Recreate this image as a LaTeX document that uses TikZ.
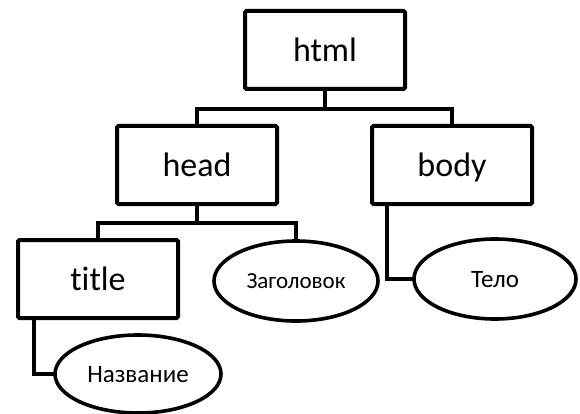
\documentclass[tikz,border=0pt]{standalone}
\usepackage{fontspec}
\setmainfont{Carlito}[Ligatures={NoCommon}]
\usetikzlibrary{shapes.geometric,calc}

% text with a fixed height and no depth, so every label sits on the same line
\newcommand{\boxlabel}[1]{\vphantom{h}\smash{#1}}
\newcommand{\ovallabel}[1]{\vphantom{H}\smash{#1}}

\tikzset{
  tag/.style={draw, line width=4pt, rounded corners=1.5pt, fill=white,
    minimum width=160pt, minimum height=78pt, inner sep=0pt,
    font=\fontsize{34}{40}\selectfont},
  leaf/.style={draw, ellipse, line width=3.6pt, fill=white,
    minimum width=164pt, minimum height=80pt, inner sep=0pt,
    font=\fontsize{25}{30}\selectfont},
  link/.style={line width=4pt, line cap=rect, line join=miter}
}

\begin{document}
\begin{tikzpicture}[x=1pt, y=-1pt]
  \useasboundingbox[fill=white] (0,0) rectangle (580,414);

  % element boxes
  \node[tag] (html)  at (325,50)  {\boxlabel{html}};
  \node[tag] (head)  at (197,165) {\boxlabel{head}};
  \node[tag] (body)  at (452,165) {\boxlabel{body}};
  \node[tag] (title) at (98,279)  {\boxlabel{title}};

  % text contents
  \node[leaf, font=\fontsize{23}{28}\selectfont] (zag) at (296,281) {\ovallabel{Заголовок}};
  \node[leaf, minimum width=162pt] (telo) at (495,279) {\ovallabel{Тело}};
  \node[leaf, minimum width=166pt, minimum height=78pt] (nazv) at (138,374) {\ovallabel{Название}};

  % tree links
  \draw[link] (html.south) -- ++(0,18) -| (head.north);
  \draw[link] (html.south) -- ++(0,18) -| (body.north);
  \draw[link] (head.south) -- ++(0,17) -| (title.north);
  \draw[link] (head.south) -- ++(0,17) -| (zag.north);
  \draw[link] ($(body.south west)+(17,0)$) |- (telo.west);
  \draw[link] ($(title.south west)+(18,0)$) |- (nazv.west);
\end{tikzpicture}
\end{document}
